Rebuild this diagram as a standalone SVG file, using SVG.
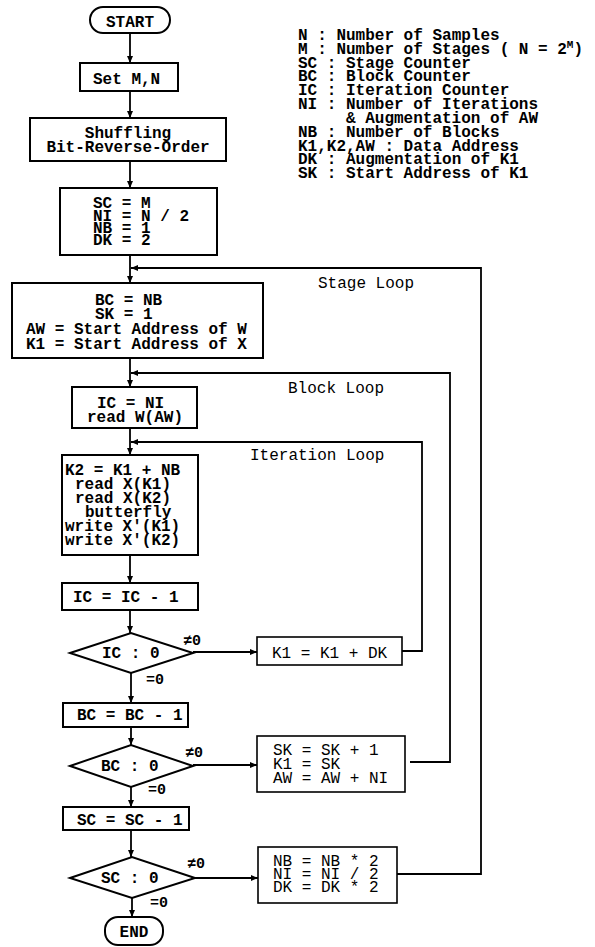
<svg xmlns="http://www.w3.org/2000/svg" width="595" height="947" viewBox="0 0 595 947">
<style>
.b{fill:#fff;stroke:#000;stroke-width:2}
.rb{fill:#fff;stroke:#000;stroke-width:1.6}
.t{font-family:"Liberation Mono","DejaVu Sans Mono",monospace;font-size:16px;font-weight:bold;fill:#000}
.r{font-family:"Liberation Mono","DejaVu Sans Mono",monospace;font-size:16px;fill:#000}
.s{font-family:"Liberation Mono","DejaVu Sans Mono",monospace;font-size:15px;font-weight:bold;fill:#000}
.c{fill:none;stroke:#000;stroke-width:1.8}
</style>
<defs>
<marker id="a" markerWidth="8" markerHeight="8" refX="7" refY="4" orient="auto" markerUnits="userSpaceOnUse">
<path d="M0,1 L7,4 L0,7 Z" fill="#000"/>
</marker>
</defs>
<rect width="595" height="947" fill="#fff"/>
<g id="connectors">
<line class="c" x1="130" y1="33" x2="130" y2="63" marker-end="url(#a)"/>
<line class="c" x1="130" y1="91" x2="130" y2="118" marker-end="url(#a)"/>
<line class="c" x1="130" y1="161" x2="130" y2="188" marker-end="url(#a)"/>
<line class="c" x1="130" y1="255" x2="130" y2="283" marker-end="url(#a)"/>
<line class="c" x1="130" y1="358" x2="130" y2="387" marker-end="url(#a)"/>
<line class="c" x1="130" y1="428" x2="130" y2="455" marker-end="url(#a)"/>
<line class="c" x1="130" y1="555" x2="130" y2="583" marker-end="url(#a)"/>
<line class="c" x1="130" y1="610" x2="130" y2="633" marker-end="url(#a)"/>
<line class="c" x1="131" y1="673" x2="131" y2="703" marker-end="url(#a)"/>
<line class="c" x1="131" y1="727" x2="131" y2="745" marker-end="url(#a)"/>
<line class="c" x1="131" y1="787" x2="131" y2="807" marker-end="url(#a)"/>
<line class="c" x1="131" y1="830" x2="131" y2="857" marker-end="url(#a)"/>
<line class="c" x1="132" y1="898" x2="132" y2="917" marker-end="url(#a)"/>
<line class="c" x1="193" y1="652" x2="257" y2="652" marker-end="url(#a)"/>
<line class="c" x1="193" y1="765" x2="257" y2="765" marker-end="url(#a)"/>
<line class="c" x1="195" y1="878" x2="258" y2="878" marker-end="url(#a)"/>
<polyline class="c" points="402,651 422,651 422,442 131,442" marker-end="url(#a)"/>
<polyline class="c" points="410,762 450,762 450,373 131,373" marker-end="url(#a)"/>
<polyline class="c" points="397,874 481,874 481,268 131,268" marker-end="url(#a)"/>
</g>
<g id="start"><rect class="b" x="90" y="7" width="80" height="26" rx="13"/><text class="t" x="130" y="27" text-anchor="middle">START</text></g>
<g id="setmn"><rect class="b" x="80" y="63" width="98" height="28"/><text class="t" x="93" y="84">Set M,N</text></g>
<g id="shuffling"><rect class="b" x="30" y="118" width="196" height="43"/><text class="t" x="128" y="138" text-anchor="middle">Shuffling</text><text class="t" x="128" y="152" text-anchor="middle">Bit-Reverse-Order</text></g>
<g id="init"><rect class="b" x="60" y="188" width="157" height="67"/>
<text class="t" x="93" y="208">SC = M</text><text class="t" x="93" y="221">NI = N / 2</text><text class="t" x="93" y="233">NB = 1</text><text class="t" x="93" y="245">DK = 2</text></g>
<g id="stageinit"><rect class="b" x="12" y="283" width="251" height="75"/>
<text class="t" x="95" y="305">BC = NB</text><text class="t" x="95" y="319">SK = 1</text><text class="t" x="26" y="334">AW = Start Address of W</text><text class="t" x="26" y="349">K1 = Start Address of X</text></g>
<g id="blockinit"><rect class="b" x="72" y="387" width="125" height="41"/>
<text class="t" x="97" y="408">IC = NI</text><text class="t" x="87" y="422">read W(AW)</text></g>
<g id="butterfly"><rect class="b" x="62" y="455" width="136" height="100"/>
<text class="t" x="65" y="475">K2 = K1 + NB</text><text class="t" x="75" y="489">read X(K1)</text><text class="t" x="75" y="503">read X(K2)</text><text class="t" x="85" y="517">butterfly</text><text class="t" x="65" y="531">write X'(K1)</text><text class="t" x="65" y="545">write X'(K2)</text></g>
<g id="icdec"><rect class="b" x="62" y="583" width="136" height="27"/><text class="t" x="73" y="602">IC = IC - 1</text></g>
<g id="icdec0"><polygon class="b" points="70,653 131,633 193,653 131,673"/><text class="t" x="102" y="658">IC : 0</text>
<text class="s" x="183" y="645">≠0</text><text class="s" x="146" y="684">=0</text></g>
<g id="k1inc"><rect class="rb" x="257" y="637" width="145" height="28"/><text class="r" x="272" y="658">K1 = K1 + DK</text></g>
<g id="bcdec"><rect class="b" x="63" y="703" width="125" height="24"/><text class="t" x="77" y="720">BC = BC - 1</text></g>
<g id="bcdec0"><polygon class="b" points="70,766 131,745 193,766 131,787"/><text class="t" x="101" y="771">BC : 0</text>
<text class="s" x="185" y="757">≠0</text><text class="s" x="148" y="794">=0</text></g>
<g id="skinc"><rect class="rb" x="257" y="736" width="148" height="56"/>
<text class="r" x="273" y="755">SK = SK + 1</text><text class="r" x="273" y="769">K1 = SK</text><text class="r" x="273" y="783">AW = AW + NI</text></g>
<g id="scdec"><rect class="b" x="63" y="807" width="126" height="23"/><text class="t" x="77" y="825">SC = SC - 1</text></g>
<g id="scdec0"><polygon class="b" points="70,878 132,857 195,878 132,898"/><text class="t" x="101" y="883">SC : 0</text>
<text class="s" x="187" y="868">≠0</text><text class="s" x="150" y="907">=0</text></g>
<g id="nbmul"><rect class="rb" x="258" y="847" width="139" height="56"/>
<text class="r" x="273" y="866">NB = NB * 2</text><text class="r" x="273" y="879">NI = NI / 2</text><text class="r" x="273" y="892">DK = DK * 2</text></g>
<g id="end"><rect class="b" x="105" y="917" width="58" height="28" rx="13"/><text class="t" x="134" y="937" text-anchor="middle">END</text></g>
<g id="labels">
<text class="r" x="318" y="288">Stage Loop</text>
<text class="r" x="288" y="393">Block Loop</text>
<text class="r" x="250" y="460">Iteration Loop</text>
</g>
<g id="legend" class="t">
<text x="298" y="40">N : Number of Samples</text>
<text x="298" y="54">M : Number of Stages ( N = 2<tspan font-size="11" dy="-6">M</tspan><tspan dy="6">)</tspan></text>
<text x="298" y="68">SC : Stage Counter</text>
<text x="298" y="81">BC : Block Counter</text>
<text x="298" y="95">IC : Iteration Counter</text>
<text x="298" y="109">NI : Number of Iterations</text>
<text x="346" y="123">&amp; Augmentation of AW</text>
<text x="298" y="137">NB : Number of Blocks</text>
<text x="298" y="151">K1,K2,AW : Data Address</text>
<text x="298" y="164">DK : Augmentation of K1</text>
<text x="298" y="178">SK : Start Address of K1</text>
</g>
</svg>
